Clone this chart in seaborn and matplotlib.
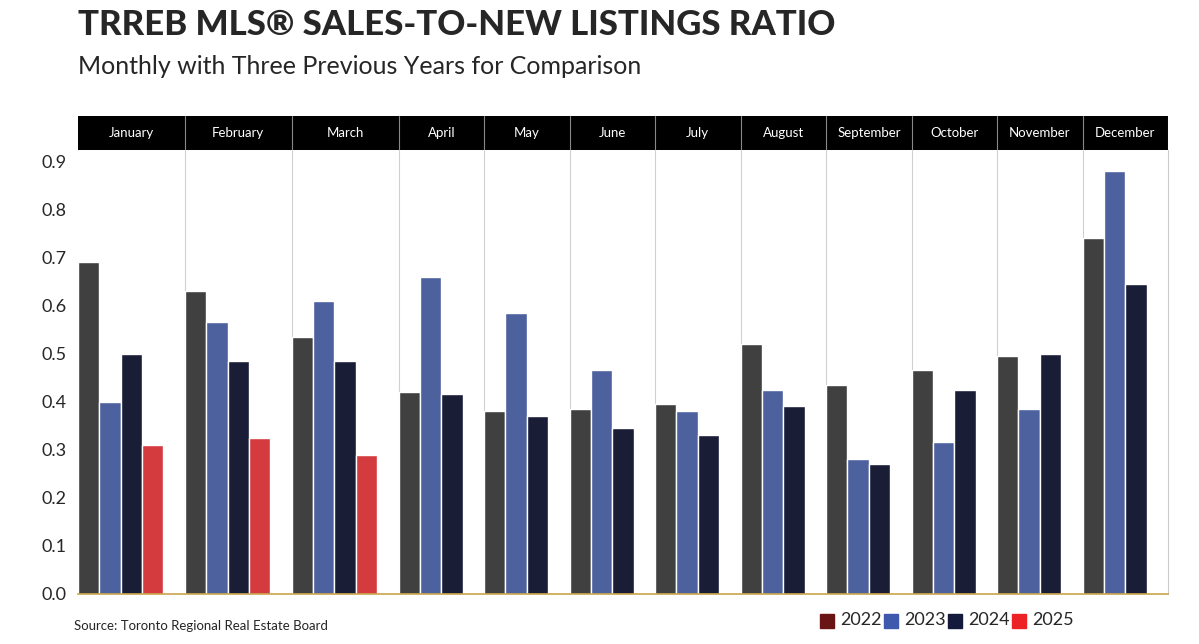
import matplotlib
matplotlib.use("Agg")
import matplotlib.pyplot as plt
import seaborn as sns
import pandas as pd
from matplotlib.patches import Rectangle

months = ["January","February","March","April","May","June","July","August",
          "September","October","November","December"]
v2022 = [0.69,0.63,0.535,0.42,0.38,0.385,0.395,0.52,0.435,0.465,0.495,0.74]
v2023 = [0.40,0.565,0.61,0.66,0.585,0.465,0.38,0.425,0.28,0.315,0.385,0.88]
v2024 = [0.50,0.485,0.485,0.415,0.37,0.345,0.33,0.39,0.27,0.425,0.50,0.645]
v2025 = [0.31,0.325,0.29]
years = ["2022","2023","2024","2025"]
bar_colors = {"2022":"#404040","2023":"#3f5aad","2024":"#141a3b","2025":"#ec2227"}
legend_colors = {"2022":"#6b1416","2023":"#3f5aad","2024":"#141a3b","2025":"#ec2227"}

rows = []
bounds = []
pos = 0
for i, m in enumerate(months):
    start = pos
    vals = [v2022[i], v2023[i], v2024[i]] + ([v2025[i]] if i < len(v2025) else [])
    for y, v in zip(years, vals):
        rows.append({"pos": pos, "year": y, "value": v, "month": m})
        pos += 1
    pos += 1
    bounds.append((start - 0.5, pos - 0.5))
df = pd.DataFrame(rows)

sns.set_style("white")
plt.rcParams['font.family'] = ['Lato', 'DejaVu Sans']
fig = plt.figure(figsize=(11.99, 6.44), dpi=100)
ax = fig.add_axes([78/1199, 1-594/644, 1090/1199, 444/644])
sns.barplot(data=df, x="pos", y="value", hue="year", palette=bar_colors,
            native_scale=True, dodge=False, width=1.0, ax=ax, legend=False)
ax.set_xlim(-0.5, pos - 0.5)
ax.set_ylim(0, 444/481)
ax.set_yticks([i/10 for i in range(10)])
ax.set_yticklabels([f"{i/10:.1f}" for i in range(10)], fontsize=13)
ax.tick_params(axis="y", length=0, pad=8)
ax.set_xticks([])
ax.set_xlabel(""); ax.set_ylabel("")
for s in ["top", "left"]:
    ax.spines[s].set_visible(False)
ax.spines["right"].set_color("#cccccc")
ax.spines["bottom"].set_color("#c9a44a")
ax.spines["bottom"].set_linewidth(1.2)
for a, b in bounds[:-1]:
    ax.axvline(b, color="#d0d0d0", lw=0.8, zorder=0)

hax = fig.add_axes([78/1199, 1-150/644, 1090/1199, 34/644])
hax.set_xlim(-0.5, pos - 0.5); hax.set_ylim(0, 1)
hax.set_facecolor("black")
hax.set_xticks([]); hax.set_yticks([])
for s in hax.spines.values(): s.set_visible(False)
for (a, b), m in zip(bounds, months):
    hax.text((a + b) / 2, 0.5, m, color="white", ha="center", va="center", fontsize=9.5)
    hax.axvline(b, color="#888888", lw=0.8)

fig.text(78/1199, 1-25/644, "TRREB MLS® SALES-TO-NEW LISTINGS RATIO", fontsize=25,
         fontweight="black", va="center", ha="left")
fig.text(78/1199, 1-66/644, "Monthly with Three Previous Years for Comparison", fontsize=18,
         va="center", ha="left")
fig.text(74/1199, 1-626/644, "Source: Toronto Regional Real Estate Board", fontsize=9.5,
         va="center", ha="left")
lx = 820
for y in years:
    fig.patches.append(Rectangle((lx/1199, 1-628/644), 14/1199, 14/644,
                                 transform=fig.transFigure, color=legend_colors[y]))
    fig.text((lx + 20)/1199, 1-620/644, y, fontsize=13, va="center", ha="left")
    lx += 64

fig.savefig("out.png", dpi=100)
